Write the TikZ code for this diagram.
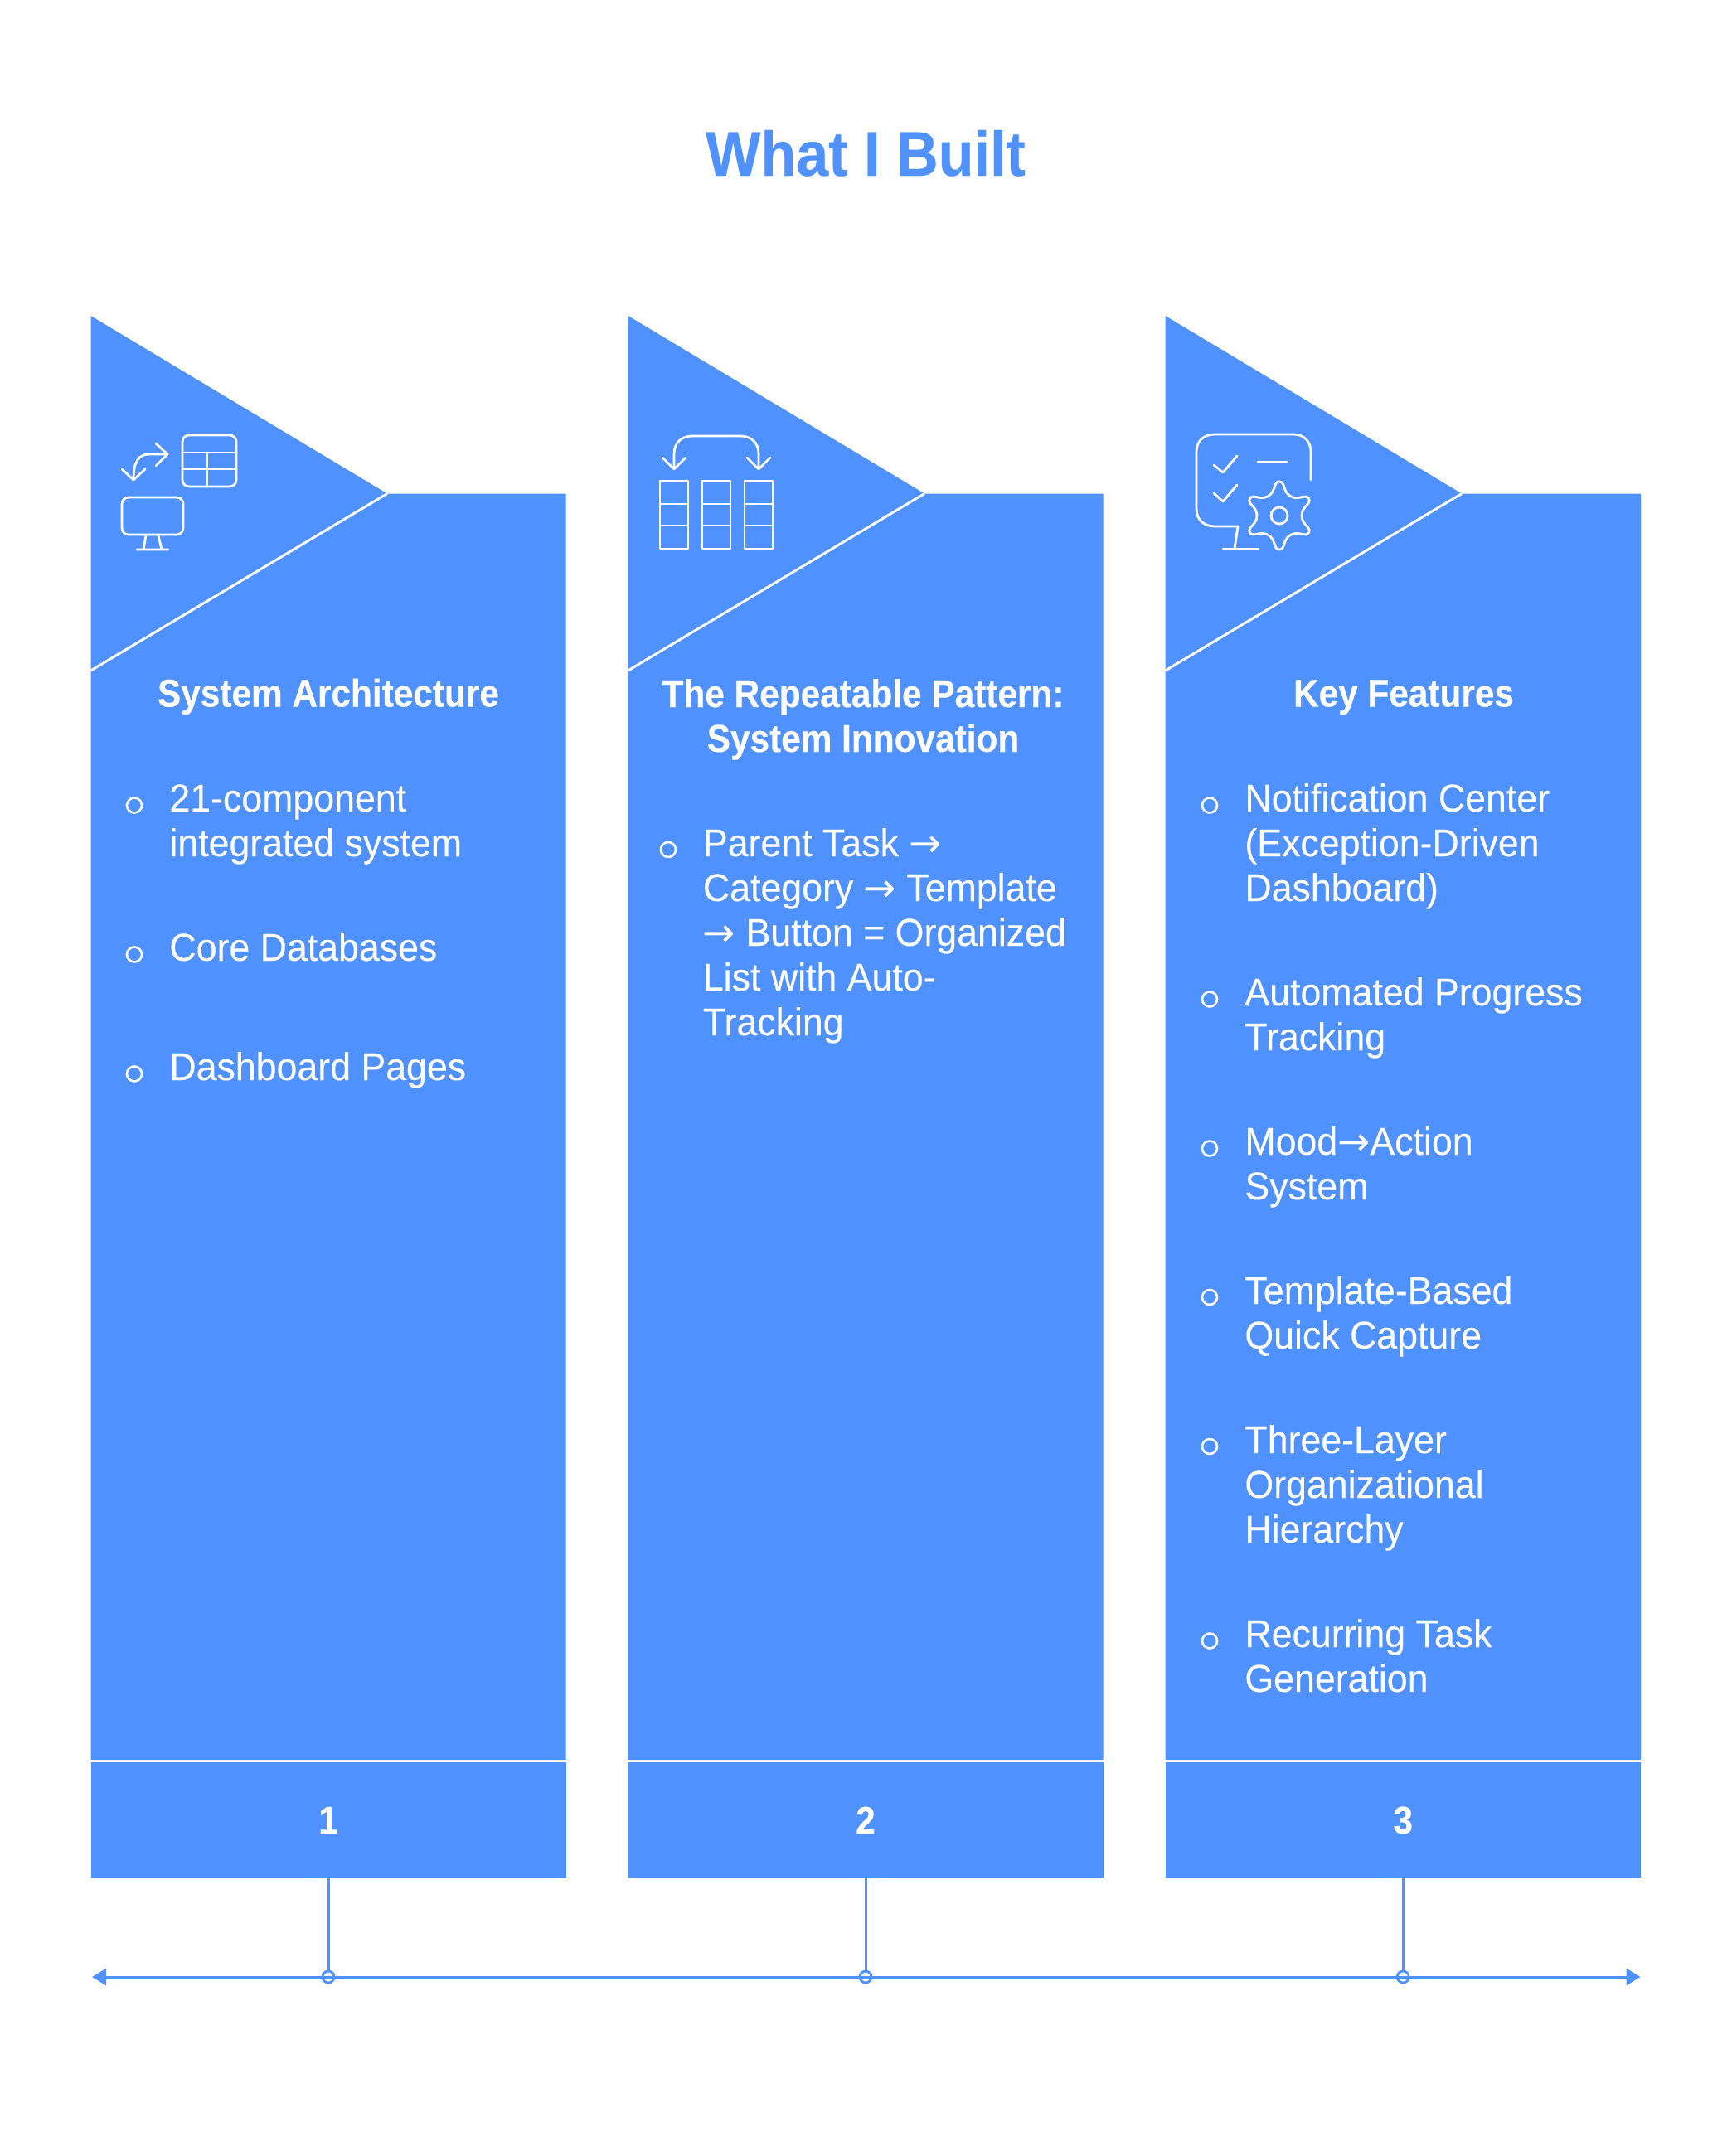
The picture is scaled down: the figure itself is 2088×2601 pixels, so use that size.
\documentclass[tikz,border=0pt]{standalone}
\usepackage{fontspec}
\setmainfont[FakeStretch=0.955, FakeBold=0.1, BoldFont={Liberation Sans Bold}, BoldFeatures={FakeStretch=0.905, FakeBold=0.3}]{Liberation Sans}
\newfontfamily\arrowfont{DejaVu Sans}
\newfontfamily\titlefont[FakeStretch=0.923, FakeBold=0.3]{Liberation Sans Bold}
\newcommand{\arr}{{\arrowfont →}}
\usetikzlibrary{arrows.meta}
\definecolor{barblue}{HTML}{4F91FF}
\tikzset{>=stealth}
\tikzset{
bar/.style={fill=barblue},
cutline/.style={draw=white, line width=1.5pt},
numbox/.style={fill=barblue, text=white, minimum width=286.5pt, minimum height=70pt,
inner sep=0pt, font=\fontsize{23.4}{27}\selectfont\bfseries},
heading/.style={text=white, inner sep=0pt, anchor=base, align=center,
font=\fontsize{23.4}{27}\selectfont\bfseries},
itemtext/.style={text=white, inner sep=0pt, anchor=base west, align=left,
font=\fontsize{23.4}{27}\selectfont},
bullet/.style={circle, draw=white, line width=1.3pt, minimum size=9pt, inner sep=0pt},
icon/.style={draw=white, line width=1.4pt, line cap=round, line join=round},
tick/.style={circle, draw=barblue, line width=1.4pt, minimum size=7pt, inner sep=0pt},
link/.style={draw=barblue, line width=1.5pt}
}
\begin{document}
\begin{tikzpicture}[x=0.5pt, y=-0.5pt]
\useasboundingbox (0,0) rectangle (2088,2601);
\node [anchor=base, inner sep=0pt, text=barblue, font=\fontsize{38}{44}\selectfont\titlefont] (title) at (1044,212) {What I Built};
%% Bars
\path [bar] (109.5,381) -- (467,595.5) -- (682.5,595.5) -- (682.5,2123) -- (109.5,2123) -- cycle;
\path [bar] (757.5,381) -- (1115,595.5) -- (1330.5,595.5) -- (1330.5,2123) -- (757.5,2123) -- cycle;
\path [bar] (1405.5,381) -- (1763,595.5) -- (1979,595.5) -- (1979,2123) -- (1405.5,2123) -- cycle;
%% Cuts
\draw [cutline] (109.5,809) -- (467,595.5);
\draw [cutline] (757.5,809) -- (1115,595.5);
\draw [cutline] (1405.5,809) -- (1763,595.5);
%% Numbers
\node [numbox] (N1) at (396,2196) {1};
\node [numbox] (N2) at (1044,2196) {2};
\node [numbox] (N3) at (1692.25,2196) {3};
%% Headings
\node [heading] (H1) at (396,852.5) {System Architecture};
\node [heading] (H2) at (1041,907) {The Repeatable Pattern:\\System Innovation};
\node [heading] (H3) at (1693,852.5) {Key Features};
%% First column
\node [bullet] (B11) at (162,971.5) {};
\node [bullet] (B12) at (162,1151.5) {};
\node [bullet] (B13) at (162,1295.5) {};
\node [itemtext] (T11) at (204,1033) {21-component\\integrated system};
\node [itemtext] (T12) at (204,1159) {Core Databases};
\node [itemtext] (T13) at (204,1303) {Dashboard Pages};
%% Second column
\node [bullet] (B21) at (806,1025) {};
\node [itemtext] (T21) at (847.5,1249) {Parent Task \arr\\Category \arr\ Template\\\arr\ Button = Organized\\List with Auto-\\Tracking};
%% Third column
\node [bullet] (B31) at (1459,971.5) {};
\node [bullet] (B32) at (1459,1205.5) {};
\node [bullet] (B33) at (1459,1385.5) {};
\node [bullet] (B34) at (1459,1565) {};
\node [bullet] (B35) at (1459,1745) {};
\node [bullet] (B36) at (1459,1979.5) {};
\node [itemtext] (T31) at (1501,1087) {Notification Center\\(Exception-Driven\\Dashboard)};
\node [itemtext] (T32) at (1501,1267) {Automated Progress\\Tracking};
\node [itemtext] (T33) at (1501,1447) {Mood\arr Action\\System};
\node [itemtext] (T34) at (1501,1627) {Template-Based\\Quick Capture};
\node [itemtext] (T35) at (1501,1861) {Three-Layer\\Organizational\\Hierarchy};
\node [itemtext] (T36) at (1501,2041) {Recurring Task\\Generation};
%% Icon one
\draw [icon, rounded corners=4pt] (220,525) rectangle (285,587);
\draw [icon] (220,546) -- (285,546) (220,566) -- (285,566) (250,546) -- (250,587);
\draw [icon] (202,548) -- (180,548) .. controls (168,548) and (161,556) .. (161,578);
\draw [icon] (188,535) -- (202,548) -- (188,562);
\draw [icon] (147,566) -- (161,579) -- (175,566);
\draw [icon, rounded corners=4pt] (147,600) rectangle (221,645);
\draw [icon] (176,646) -- (173,663) (191,646) -- (195,663) (165,663) -- (203,663);
%% Icon two
\draw [icon] (796,580) rectangle (830,662) (796,608) -- (830,608) (796,634) -- (830,634);
\draw [icon] (847,580) rectangle (881,662) (847,608) -- (881,608) (847,634) -- (881,634);
\draw [icon] (898,580) rectangle (932,662) (898,608) -- (932,608) (898,634) -- (932,634);
\draw [icon] (813,565) -- (813,548) .. controls (813,534) and (822,526) .. (835,526) -- (893,526) .. controls (906,526) and (915,534) .. (915,548) -- (915,565);
\draw [icon] (799,552) -- (813,566) -- (827,552);
\draw [icon] (901,552) -- (915,566) -- (929,552);
%% Icon three
\draw [icon] (1581,579) -- (1581,545) .. controls (1581,532) and (1572,524) .. (1560,524) -- (1465,524) .. controls (1452,524) and (1443,532) .. (1443,545) -- (1443,614) .. controls (1443,627) and (1452,635) .. (1465,635) -- (1493,635) -- (1489,662);
\draw [icon] (1475,662) -- (1518,662);
\draw [icon] (1464,561) -- (1475,570) -- (1492,550);
\draw [icon] (1464,595) -- (1475,605) -- (1492,585);
\draw [icon] (1517,557) -- (1552,557);
\draw [icon, shift={(1543,622)}] plot [smooth cycle, tension=1] coordinates {(90:41) (60:27) (30:41) (0:27) (-30:41) (-60:27) (-90:41) (-120:27) (-150:41) (180:27) (150:41) (120:27)};
\node [circle, draw=white, line width=1.4pt, minimum size=10pt, inner sep=0pt] (G) at (1543,622) {};
%% Axis
\coordinate (AL) at (111,2385);
\coordinate (AR) at (1978.5,2385);
\draw [link, {Triangle[length=8.5pt, width=10pt]}-{Triangle[length=8.5pt, width=10pt]}] (AL) -- (AR);
\node [tick] (K1) at (396,2385) {};
\node [tick] (K2) at (1044,2385) {};
\node [tick] (K3) at (1692.25,2385) {};
\path [link] (N1) to (K1);
\path [link] (N2) to (K2);
\path [link] (N3) to (K3);
\end{tikzpicture}
\end{document}
